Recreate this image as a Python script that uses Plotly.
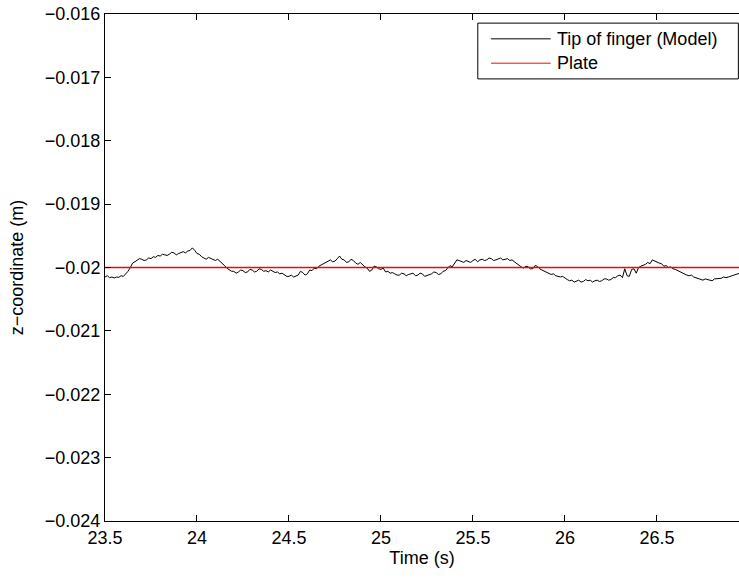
import plotly.graph_objects as go

# Sample times (s)
time_s = [
    23.5000, 23.5125, 23.5250, 23.5375, 23.5500, 23.5625, 23.5750, 23.5875, 23.6000, 23.6125,
    23.6250, 23.6375, 23.6500, 23.6625, 23.6750, 23.6875, 23.7000, 23.7125, 23.7250, 23.7375,
    23.7500, 23.7625, 23.7750, 23.7875, 23.8000, 23.8125, 23.8250, 23.8375, 23.8500, 23.8625,
    23.8750, 23.8875, 23.9000, 23.9125, 23.9250, 23.9375, 23.9500, 23.9625, 23.9750, 23.9875,
    24.0000, 24.0125, 24.0250, 24.0375, 24.0500, 24.0625, 24.0750, 24.0875, 24.1000, 24.1125,
    24.1250, 24.1375, 24.1500, 24.1625, 24.1750, 24.1875, 24.2000, 24.2125, 24.2250, 24.2375,
    24.2500, 24.2625, 24.2750, 24.2875, 24.3000, 24.3125, 24.3250, 24.3375, 24.3500, 24.3625,
    24.3750, 24.3875, 24.4000, 24.4125, 24.4250, 24.4375, 24.4500, 24.4625, 24.4750, 24.4875,
    24.5000, 24.5125, 24.5250, 24.5375, 24.5500, 24.5625, 24.5750, 24.5875, 24.6000, 24.6125,
    24.6250, 24.6375, 24.6500, 24.6625, 24.6750, 24.6875, 24.7000, 24.7125, 24.7250, 24.7375,
    24.7500, 24.7625, 24.7750, 24.7875, 24.8000, 24.8125, 24.8250, 24.8375, 24.8500, 24.8625,
    24.8750, 24.8875, 24.9000, 24.9125, 24.9250, 24.9375, 24.9500, 24.9625, 24.9750, 24.9875,
    25.0000, 25.0125, 25.0250, 25.0375, 25.0500, 25.0625, 25.0750, 25.0875, 25.1000, 25.1125,
    25.1250, 25.1375, 25.1500, 25.1625, 25.1750, 25.1875, 25.2000, 25.2125, 25.2250, 25.2375,
    25.2500, 25.2625, 25.2750, 25.2875, 25.3000, 25.3125, 25.3250, 25.3375, 25.3500, 25.3625,
    25.3750, 25.3875, 25.4000, 25.4125, 25.4250, 25.4375, 25.4500, 25.4625, 25.4750, 25.4875,
    25.5000, 25.5125, 25.5250, 25.5375, 25.5500, 25.5625, 25.5750, 25.5875, 25.6000, 25.6125,
    25.6250, 25.6375, 25.6500, 25.6625, 25.6750, 25.6875, 25.7000, 25.7125, 25.7250, 25.7375,
    25.7500, 25.7625, 25.7750, 25.7875, 25.8000, 25.8125, 25.8250, 25.8375, 25.8500, 25.8625,
    25.8750, 25.8875, 25.9000, 25.9125, 25.9250, 25.9375, 25.9500, 25.9625, 25.9750, 25.9875,
    26.0000, 26.0125, 26.0250, 26.0375, 26.0500, 26.0625, 26.0750, 26.0875, 26.1000, 26.1125,
    26.1250, 26.1375, 26.1500, 26.1625, 26.1750, 26.1875, 26.2000, 26.2125, 26.2250, 26.2375,
    26.2500, 26.2625, 26.2750, 26.2875, 26.3000, 26.3125, 26.3250, 26.3375, 26.3500, 26.3625,
    26.3750, 26.3875, 26.4000, 26.4125, 26.4250, 26.4375, 26.4500, 26.4625, 26.4750, 26.4875,
    26.5000, 26.5125, 26.5250, 26.5375, 26.5500, 26.5625, 26.5750, 26.5875, 26.6000, 26.6125,
    26.6250, 26.6375, 26.6500, 26.6625, 26.6750, 26.6875, 26.7000, 26.7125, 26.7250, 26.7375,
    26.7500, 26.7625, 26.7750, 26.7875, 26.8000, 26.8125, 26.8250, 26.8375, 26.8500, 26.8625,
    26.8750, 26.8875, 26.9000, 26.9125, 26.9250, 26.9375, 26.9500,
]

# Tip of finger (Model), z-coordinate (m)
tip_z = [
    -0.02015, -0.02013, -0.02016, -0.02015, -0.020165, -0.02015, -0.020155, -0.02013, -0.02014, -0.02010,
    -0.02006, -0.02000, -0.01993, -0.01991, -0.01989, -0.01986, -0.01987, -0.01989, -0.01988, -0.01985,
    -0.01986, -0.01983, -0.01984, -0.01981, -0.01982, -0.01979, -0.01980, -0.01981, -0.01979, -0.01976,
    -0.01977, -0.01980, -0.01978, -0.01976, -0.01975, -0.01977, -0.01974, -0.01973, -0.01969, -0.01973,
    -0.01978, -0.01979, -0.01983, -0.01985, -0.01987, -0.01984, -0.01986, -0.01988, -0.01989, -0.01987,
    -0.01990, -0.01993, -0.01997, -0.02001, -0.02003, -0.02006, -0.02006, -0.02009, -0.02007, -0.02004,
    -0.02005, -0.02008, -0.02007, -0.02003, -0.02004, -0.02007, -0.02006, -0.02002, -0.02003, -0.02006,
    -0.02005, -0.02007, -0.02004, -0.02006, -0.02008, -0.02007, -0.02010, -0.02009, -0.02011, -0.02014,
    -0.02014, -0.02012, -0.02015, -0.02013, -0.02012, -0.02006, -0.02008, -0.02012, -0.02010, -0.02004,
    -0.02005, -0.02001, -0.02002, -0.01998, -0.01996, -0.01994, -0.01992, -0.01989, -0.01988, -0.01991,
    -0.01990, -0.01986, -0.01982, -0.01987, -0.01988, -0.01992, -0.01991, -0.01987, -0.01989, -0.01993,
    -0.01995, -0.01992, -0.01996, -0.01999, -0.02001, -0.02006, -0.02004, -0.01998, -0.01999, -0.02002,
    -0.02003, -0.02001, -0.02007, -0.02006, -0.02009, -0.02008, -0.02010, -0.02012, -0.02012, -0.02009,
    -0.02010, -0.02013, -0.02011, -0.02010, -0.02009, -0.02013, -0.02012, -0.02009, -0.02010, -0.02014,
    -0.02013, -0.02011, -0.02010, -0.02007, -0.02008, -0.02011, -0.02010, -0.02006, -0.02005, -0.02001,
    -0.01997, -0.01999, -0.01993, -0.01988, -0.01989, -0.01991, -0.01992, -0.01989, -0.01990, -0.01992,
    -0.01989, -0.01987, -0.01991, -0.01988, -0.01987, -0.01989, -0.01988, -0.01985, -0.01986, -0.01989,
    -0.01988, -0.01986, -0.01985, -0.01988, -0.01987, -0.01986, -0.01989, -0.01988, -0.01991, -0.01994,
    -0.01997, -0.01999, -0.02001, -0.01998, -0.01999, -0.02002, -0.02002, -0.01997, -0.01998, -0.02002,
    -0.02004, -0.02006, -0.02008, -0.02010, -0.02011, -0.02010, -0.02013, -0.02014, -0.02015, -0.02014,
    -0.02017, -0.02019, -0.02021, -0.02020, -0.02023, -0.02021, -0.02020, -0.02023, -0.02022, -0.02019,
    -0.02021, -0.02020, -0.02023, -0.02021, -0.02020, -0.02022, -0.02021, -0.02018, -0.02018, -0.02020,
    -0.02019, -0.02016, -0.02016, -0.02013, -0.02012, -0.02016, -0.02002, -0.02013, -0.02014, -0.02003,
    -0.02002, -0.02009, -0.02000, -0.01998, -0.01997, -0.01995, -0.01992, -0.01994, -0.01988, -0.01990,
    -0.01991, -0.01993, -0.01994, -0.01998, -0.01997, -0.02000, -0.01999, -0.02002, -0.02003, -0.02005,
    -0.02007, -0.02008, -0.02010, -0.02012, -0.02013, -0.02012, -0.02015, -0.02016, -0.02017, -0.02019,
    -0.02020, -0.02018, -0.02019, -0.02021, -0.02021, -0.02018, -0.02018, -0.02017, -0.02017, -0.02015,
    -0.02016, -0.02015, -0.02014, -0.02012, -0.02012, -0.02010, -0.02009,
]

# Plate, z-coordinate (m)
plate_time = [23.5, 26.95]
plate_z = [-0.02, -0.02]

x_range = [23.5, 26.946]
y_range = [-0.024, -0.016]
x_ticks = [23.5, 24, 24.5, 25, 25.5, 26, 26.5]
y_ticks = [-0.024, -0.023, -0.022, -0.021, -0.020, -0.019, -0.018, -0.017, -0.016]
y_tick_labels = ["\u22120.024", "\u22120.023", "\u22120.022", "\u22120.021", "\u22120.02",
                 "\u22120.019", "\u22120.018", "\u22120.017", "\u22120.016"]

legend_names = ["Tip of finger (Model)", "Plate"]
legend_colors = ["#000000", "#ff0000"]

FONT = "Liberation Sans, Arial, Helvetica, sans-serif"
FS = 18

fig = go.Figure()
fig.add_trace(go.Scatter(x=time_s, y=tip_z, mode="lines", name=legend_names[0],
                         line=dict(color=legend_colors[0], width=1), showlegend=False))
fig.add_trace(go.Scatter(x=plate_time, y=plate_z, mode="lines", name=legend_names[1],
                         line=dict(color=legend_colors[1], width=1.5), showlegend=False))

# Manual MATLAB-style legend
fig.add_shape(type="rect", xref="paper", yref="paper", x0=0.588, x1=0.999, y0=0.872, y1=0.982,
              line=dict(color="black", width=1), fillcolor="white", layer="above")
row_y = [0.951, 0.903]
for name, col, yy in zip(legend_names, legend_colors, row_y):
    fig.add_shape(type="line", xref="paper", yref="paper", x0=0.609, x1=0.703, y0=yy, y1=yy,
                  line=dict(color=col, width=1), layer="above")
    fig.add_annotation(xref="paper", yref="paper", x=0.71, y=yy, text=name, showarrow=False,
                       xanchor="left", yanchor="middle", font=dict(family=FONT, size=FS, color="black"))

axis_common = dict(
    showgrid=False, zeroline=False, showline=True, linecolor="black", linewidth=1,
    ticks="inside", ticklen=6, tickcolor="black", tickwidth=1,
    tickfont=dict(family=FONT, size=FS, color="black"),
    ticklabeloverflow="allow",
)
fig.update_xaxes(range=x_range, tickvals=x_ticks, mirror="ticks",
                 title=dict(text="Time (s)", font=dict(family=FONT, size=FS, color="black"), standoff=1),
                 **axis_common)
fig.update_yaxes(range=y_range, tickvals=y_ticks, ticktext=y_tick_labels, mirror=False,
                 title=dict(text="z\u2212coordinate (m)", font=dict(family=FONT, size=FS, color="black"), standoff=16),
                 **axis_common)

fig.update_layout(
    width=739, height=578,
    margin=dict(l=105, r=0, t=14, b=57),
    paper_bgcolor="white", plot_bgcolor="white",
    font=dict(family=FONT, size=FS, color="black"),
)

# Remove the browser's default page margin so the figure fills the window exactly.
fig.write_html("out.html", config={"displayModeBar": False},
               post_script="document.body.style.margin='0';")
